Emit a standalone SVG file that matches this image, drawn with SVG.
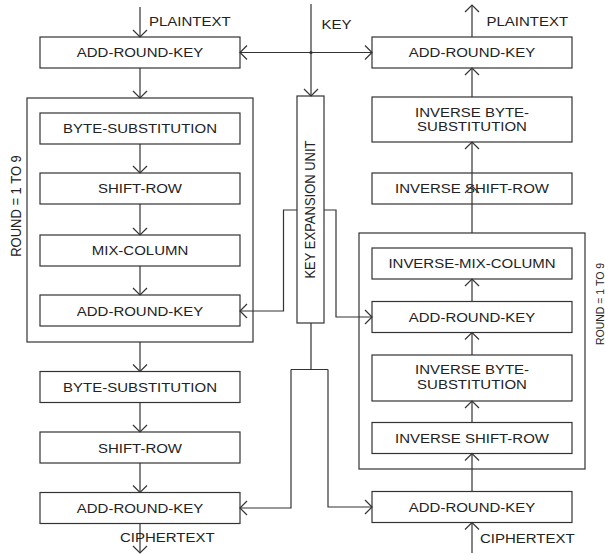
<svg xmlns="http://www.w3.org/2000/svg" width="605" height="554" viewBox="0 0 605 554">
<defs>
<style>
.box{fill:#fff;stroke:#333;stroke-width:1.2}
.ln{fill:none;stroke:#333;stroke-width:1.2}
.t{font-family:"Liberation Sans",Arial,sans-serif;font-size:13.5px;fill:#222}
.r{font-family:"Liberation Sans",Arial,sans-serif;font-size:13px;fill:#222}
</style>
<marker id="a" markerUnits="userSpaceOnUse" viewBox="-9 -9 18 18" refX="0" refY="0" markerWidth="18" markerHeight="18" orient="auto">
<path d="M-7,-7 L0,0 L-7,7" fill="none" stroke="#333" stroke-width="1.2"/>
</marker>
</defs>
<rect width="605" height="554" fill="#fff"/>

<g id="round-left">
<rect class="box" x="27" y="98" width="226" height="244" fill="none"/>
<text class="r" text-anchor="middle" transform="translate(20.5,206) scale(1.11,1) rotate(-90)">ROUND = 1 TO 9</text>
</g>
<g id="round-right">
<rect class="box" x="359" y="233" width="226" height="236"/>
<text class="r" text-anchor="middle" style="font-size:10.5px" transform="translate(603.5,304) scale(1.11,1) rotate(-90)">ROUND = 1 TO 9</text>
</g>

<g id="L_ark0"><rect class="box" x="40" y="37" width="200" height="31"/><text class="t" text-anchor="middle" transform="translate(140,57.3) scale(1.11,1)">ADD-ROUND-KEY</text></g>
<g id="L_bs1"><rect class="box" x="40" y="113" width="200" height="31"/><text class="t" text-anchor="middle" transform="translate(140,133.3) scale(1.11,1)">BYTE-SUBSTITUTION</text></g>
<g id="L_sr1"><rect class="box" x="40" y="173" width="200" height="31"/><text class="t" text-anchor="middle" transform="translate(140,193.3) scale(1.11,1)">SHIFT-ROW</text></g>
<g id="L_mc"><rect class="box" x="40" y="235" width="200" height="31"/><text class="t" text-anchor="middle" transform="translate(140,255.3) scale(1.11,1)">MIX-COLUMN</text></g>
<g id="L_ark1"><rect class="box" x="40" y="295" width="200" height="31"/><text class="t" text-anchor="middle" transform="translate(140,315.5) scale(1.11,1)">ADD-ROUND-KEY</text></g>
<g id="L_bs2"><rect class="box" x="40" y="371.5" width="200" height="31"/><text class="t" text-anchor="middle" transform="translate(140,392) scale(1.11,1)">BYTE-SUBSTITUTION</text></g>
<g id="L_sr2"><rect class="box" x="40" y="432" width="200" height="31"/><text class="t" text-anchor="middle" transform="translate(140,452.5) scale(1.11,1)">SHIFT-ROW</text></g>
<g id="L_ark2"><rect class="box" x="40" y="492.5" width="200" height="31"/><text class="t" text-anchor="middle" transform="translate(140,512.8) scale(1.11,1)">ADD-ROUND-KEY</text></g>

<g id="KEU"><rect class="box" x="297" y="96" width="27" height="227"/><text class="r" text-anchor="middle" transform="translate(315,209.5) scale(1.11,1) rotate(-90)">KEY EXPANSION UNIT</text></g>

<g id="R_ark0"><rect class="box" x="372" y="37" width="200" height="31"/><text class="t" text-anchor="middle" transform="translate(472,57.3) scale(1.11,1)">ADD-ROUND-KEY</text></g>
<g id="R_ibs1"><rect class="box" x="372" y="97" width="200" height="45"/><text class="t" text-anchor="middle" transform="translate(472,116.7) scale(1.11,1)">INVERSE BYTE-</text><text class="t" text-anchor="middle" transform="translate(472,131) scale(1.11,1)">SUBSTITUTION</text></g>
<g id="R_isr1"><rect class="box" x="372" y="173" width="200" height="31"/><text class="t" text-anchor="middle" transform="translate(472,193.3) scale(1.11,1)">INVERSE SHIFT-ROW</text></g>
<g id="R_imc"><rect class="box" x="372" y="248" width="200" height="31"/><text class="t" text-anchor="middle" transform="translate(472,268.3) scale(1.11,1)">INVERSE-MIX-COLUMN</text></g>
<g id="R_ark1"><rect class="box" x="372" y="301.5" width="200" height="31"/><text class="t" text-anchor="middle" transform="translate(472,321.8) scale(1.11,1)">ADD-ROUND-KEY</text></g>
<g id="R_ibs2"><rect class="box" x="372" y="355" width="200" height="46"/><text class="t" text-anchor="middle" transform="translate(472,374) scale(1.11,1)">INVERSE BYTE-</text><text class="t" text-anchor="middle" transform="translate(472,388.5) scale(1.11,1)">SUBSTITUTION</text></g>
<g id="R_isr2"><rect class="box" x="372" y="422.5" width="200" height="31"/><text class="t" text-anchor="middle" transform="translate(472,443) scale(1.11,1)">INVERSE SHIFT-ROW</text></g>
<g id="R_ark2"><rect class="box" x="372" y="491.5" width="200" height="31"/><text class="t" text-anchor="middle" transform="translate(472,511.5) scale(1.11,1)">ADD-ROUND-KEY</text></g>

<g id="connectors" class="ln">
<path class="ln" marker-end="url(#a)" d="M140,7 V37"/>
<path class="ln" marker-end="url(#a)" d="M140,68 V98"/>
<path class="ln" marker-end="url(#a)" d="M140,144 V173"/>
<path class="ln" marker-end="url(#a)" d="M140,204 V235"/>
<path class="ln" marker-end="url(#a)" d="M140,266 V295"/>
<path class="ln" marker-end="url(#a)" d="M140,342 V371.5"/>
<path class="ln" marker-end="url(#a)" d="M140,402.5 V432"/>
<path class="ln" marker-end="url(#a)" d="M140,463 V492.5"/>
<path class="ln" marker-end="url(#a)" d="M140,523.5 V553"/>

<path class="ln" marker-end="url(#a)" d="M311,4 V96"/>
<path class="ln" marker-end="url(#a)" d="M311,52.5 H240"/>
<path class="ln" marker-end="url(#a)" d="M311,52.5 H372"/>
<circle cx="311" cy="52.5" r="1.6" fill="#333" stroke="none"/>
<path class="ln" marker-end="url(#a)" d="M297,210 H283.5 V311 H240"/>
<path class="ln" marker-end="url(#a)" d="M324,210 H336 V317 H372"/>
<path class="ln" d="M311,323 V369.5 M291,369.5 H328"/>
<path class="ln" marker-end="url(#a)" d="M291,369.5 V508 H240"/>
<path class="ln" marker-end="url(#a)" d="M328,369.5 V507 H372"/>

<path class="ln" marker-end="url(#a)" d="M472,37 V5"/>
<path class="ln" marker-end="url(#a)" d="M472,97 V68"/>
<path class="ln" marker-end="url(#a)" d="M472,233 V142"/>
<path class="ln" d="M465,193 L472,186 L479,193"/>
<path class="ln" marker-end="url(#a)" d="M472,301.5 V279"/>
<path class="ln" marker-end="url(#a)" d="M472,355 V332.5"/>
<path class="ln" marker-end="url(#a)" d="M472,422.5 V401"/>
<path class="ln" marker-end="url(#a)" d="M472,491.5 V453.5"/>
<path class="ln" marker-end="url(#a)" d="M472,553 V522.5"/>
</g>

<g id="labels">
<text class="t" transform="translate(149,26.3) scale(1.11,1)">PLAINTEXT</text>
<text class="t" transform="translate(321.5,29) scale(1.11,1)">KEY</text>
<text class="t" transform="translate(486.5,26.3) scale(1.11,1)">PLAINTEXT</text>
<text class="t" transform="translate(120,542) scale(1.11,1)">CIPHERTEXT</text>
<text class="t" transform="translate(480,543) scale(1.11,1)">CIPHERTEXT</text>
</g>
</svg>
